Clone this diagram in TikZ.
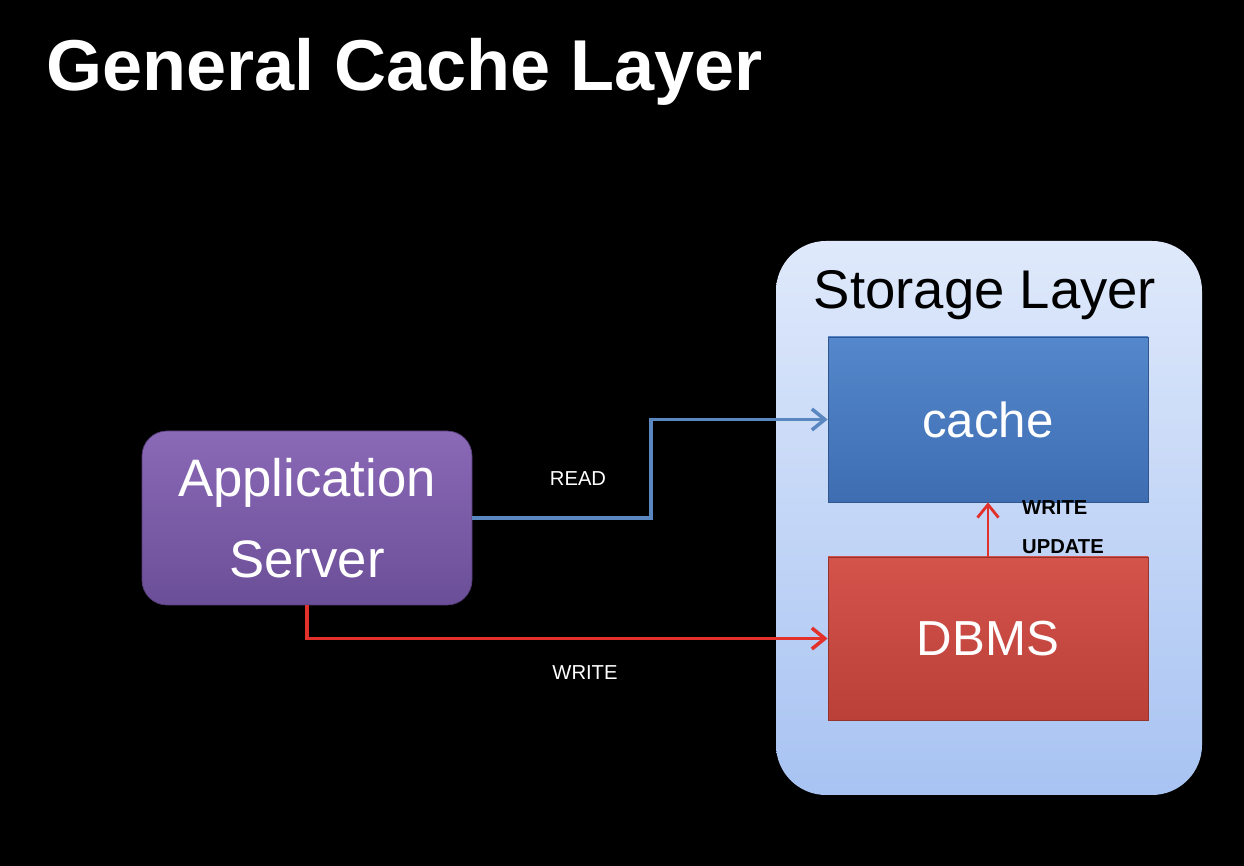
\documentclass[tikz,border=0pt]{standalone}
\usepackage{fontspec}
\setmainfont{Liberation Sans}
\usetikzlibrary{arrows.meta,positioning}

\definecolor{slidebg}{HTML}{000000}
\definecolor{layertop}{HTML}{DFE9FB}
\definecolor{layerbot}{HTML}{A8C3F2}
\definecolor{apptop}{HTML}{8A69B6}
\definecolor{appbot}{HTML}{6B4E98}
\definecolor{cachetop}{HTML}{5487CB}
\definecolor{cachebot}{HTML}{3E6DB2}
\definecolor{dbmstop}{HTML}{D4534B}
\definecolor{dbmsbot}{HTML}{BA4038}
\definecolor{readline}{HTML}{5B87C1}
\definecolor{writeline}{HTML}{E2302A}

\begin{document}
\begin{tikzpicture}[
    box/.style={minimum width=6.4cm, draw=#1!80!black, line width=0.4pt,
                text=white, font=\fontsize{28}{30}\selectfont},
    flow/.style={line width=2pt, -{Straight Barb[length=2.6mm,width=4.2mm]}},
    tag/.style={text=white, font=\fontsize{11.5}{13}\selectfont}
  ]
  % background
  \fill[slidebg] (0,0) rectangle (24.88,17.32);
  \useasboundingbox (0,0) rectangle (24.88,17.32);
  \node[anchor=base west, text=white, font=\bfseries\fontsize{41}{44}\selectfont]
    (title) at (0.8,15.5) {General Cache Layer};
  %
  \node[rounded corners=1cm, top color=layertop, bottom color=layerbot,
        minimum width=8.52cm, minimum height=11.08cm] (layer) at (19.78,6.96) {};
  \node[font=\fontsize{31}{33}\selectfont] (layertitle) at (19.7,11.42) {Storage Layer};
  %
  \node[box=cachebot, top color=cachetop, bottom color=cachebot,
        minimum height=3.3cm] (cache) at (19.76,8.93) {cache};
  \node[box=dbmsbot, top color=dbmstop, bottom color=dbmsbot,
        minimum height=3.26cm] (dbms) at (19.76,4.55) {DBMS};
  \node[box=appbot, top color=apptop, bottom color=appbot, rounded corners=0.5cm,
        minimum width=6.6cm, minimum height=3.48cm, align=center,
        font=\fontsize{30}{46}\selectfont] (app) at (6.14,6.96) {Application\\Server};
  % connectors
  \coordinate (readbend) at (13.02,6.96);
  \draw[flow, readline] (app.east) -- (readbend) |- (cache.west);
  \draw[flow, writeline] (app.south) |- (dbms.west);
  \draw[flow, writeline, line width=1.6pt] (dbms.north) -- (cache.south);
  % labels
  \node[tag] (readtag) at (11.56,7.74) {READ};
  \node[tag] (writetag) at (11.7,3.86) {WRITE};
  \node[anchor=west, font=\bfseries\fontsize{11.5}{13}\selectfont] (wtag) at (20.32,7.16) {WRITE};
  \node[anchor=west, font=\bfseries\fontsize{11.5}{13}\selectfont] (utag) at (20.32,6.38) {UPDATE};
\end{tikzpicture}
\end{document}
